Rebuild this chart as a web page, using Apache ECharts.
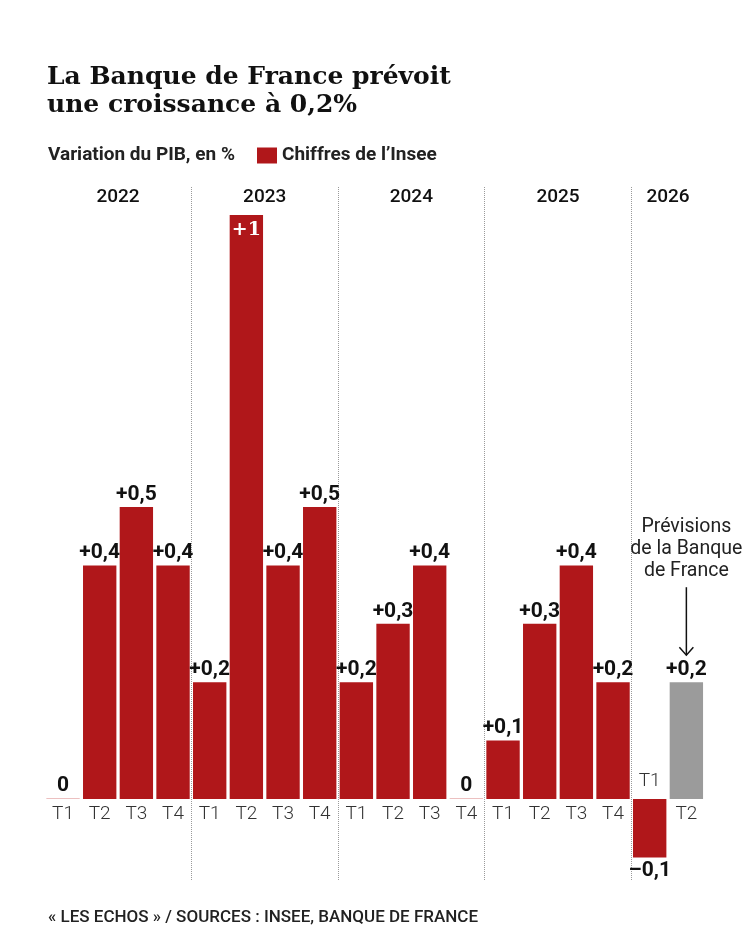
<!DOCTYPE html>
<html>
<head>
<meta charset="utf-8">
<script src="https://cdn.jsdelivr.net/npm/echarts@6/dist/echarts.min.js"></script>
<style>
  html, body { margin: 0; padding: 0; background: #fff; }
  #chart { width: 750px; height: 938px; }
</style>
</head>
<body>
<div id="chart"></div>
<script>
var quarters = ['T1', 'T2', 'T3', 'T4', 'T1', 'T2', 'T3', 'T4', 'T1', 'T2', 'T3', 'T4',
  'T1', 'T2', 'T3', 'T4', 'T1', 'T2'];
var values = [0, 0.4, 0.5, 0.4, 0.2, 1, 0.4, 0.5, 0.2, 0.3, 0.4, 0, 0.1, 0.3, 0.4, 0.2, -0.1, 0.2];
var years = ['2022', '2023', '2024', '2025', '2026'];
var yearCenters = [2, 6, 10, 14, 17];   // position on the 0..18 quarter scale
var forecastIndex = 17;

var RED = '#b0171a', GREY = '#9b9b9b';
var SANS = 'Roboto, "Noto Sans", sans-serif';
var Y_MIN = -0.1387, Y_MAX = 1.048;

function fmt(v) {
  if (v === 0) return '0';
  var s = String(Math.abs(v)).replace('.', ',');
  return (v > 0 ? '+' : '\u2013') + s;
}

var barData = values.map(function(v, i) {
  var item = { value: v };
  if (i === forecastIndex) item.itemStyle = { color: GREY };
  if (v === 0) item.itemStyle = { color: '#ecc0c0' };
  if (v < 0) item.label = { position: 'bottom', distance: 3 };
  if (v >= 1) item.label = {
    position: 'insideTop', distance: 6, color: '#fff',
    fontFamily: '"DejaVu Serif", serif', fontSize: 19
  };
  return item;
});

var axisData = quarters.map(function(q, i) {
  // the negative bar pushes its quarter label above the baseline
  if (values[i] < 0) return { value: q, textStyle: { verticalAlign: 'bottom', padding: [0, 0, 14, 0] } };
  return q;
});

var gridTop = 187, gridBottom = 58, chartH = 938;
// put the quarter axis on the zero line
var zeroOffset = -Math.round((chartH - gridTop - gridBottom) * (0 - Y_MIN) / (Y_MAX - Y_MIN));

var myChart = echarts.init(document.getElementById('chart'));
myChart.setOption({
  backgroundColor: '#fff',
  animation: false,
  title: [{
    text: 'La Banque de France prévoit\nune croissance à 0,2%',
    left: 42, top: 58,
    textStyle: { fontFamily: '"DejaVu Serif", serif', fontWeight: 'bold', fontSize: 25, lineHeight: 28, color: '#111' }
  }, {
    text: 'Variation du PIB, en %',
    left: 43, top: 141,
    textStyle: { fontFamily: SANS, fontWeight: 'bold', fontSize: 19, color: '#222' }
  }, {
    text: '« LES ECHOS » / SOURCES : INSEE, BANQUE DE FRANCE',
    left: 43, top: 904,
    textStyle: { fontFamily: SANS, fontWeight: 500, fontSize: 17, color: '#222' }
  }],
  legend: {
    left: 252, top: 141,
    icon: 'rect', itemWidth: 20, itemHeight: 16, itemGap: 8,
    data: ['Chiffres de l\u2019Insee'],
    textStyle: { fontFamily: SANS, fontWeight: 'bold', fontSize: 19, color: '#222' }
  },
  grid: { left: 44.7, right: 45.3, top: gridTop, bottom: gridBottom },
  xAxis: [{
    type: 'category',
    data: axisData,
    offset: zeroOffset,
    axisLine: { show: false, onZero: false },
    axisTick: { show: false },
    axisLabel: { margin: 6, fontFamily: SANS, fontWeight: 300, fontSize: 19, color: '#333' },
    splitLine: { show: false }
  }, {
    type: 'value', position: 'top',
    min: 0, max: 18, interval: 1,
    axisLine: { show: false }, axisTick: { show: false }, splitLine: { show: false },
    axisLabel: {
      inside: true, margin: 1,
      fontFamily: SANS, fontWeight: 500, fontSize: 19, color: '#111',
      formatter: function(v) {
        var k = yearCenters.indexOf(v);
        return k >= 0 ? years[k] : '';
      }
    }
  }, {
    // year separators: one every four quarters
    type: 'value', position: 'top',
    min: 0, max: 18, interval: 4,
    axisLine: { show: false }, axisTick: { show: false }, axisLabel: { show: false },
    splitLine: {
      show: true, showMinLine: false, showMaxLine: false,
      lineStyle: { color: '#9a9a9a', type: 'dotted', width: 1 }
    }
  }],
  yAxis: {
    type: 'value', min: Y_MIN, max: Y_MAX, show: false,
    splitLine: { show: false }
  },
  series: [{
    name: 'Chiffres de l\u2019Insee',
    type: 'bar',
    data: barData,
    barCategoryGap: '9%',
    barMinHeight: 1,
    itemStyle: { color: RED },
    label: {
      show: true, position: 'top', distance: 2,
      fontFamily: SANS, fontWeight: 'bold', fontSize: 21, color: '#111',
      formatter: function(p) { return fmt(p.value); }
    }
  }]
});

// annotation for the forecast bar
var barTop = myChart.convertToPixel({ xAxisIndex: 0, yAxisIndex: 0 }, [forecastIndex, values[forecastIndex]]);
var ax = barTop[0], ay = barTop[1];
myChart.setOption({
  graphic: [{
    type: 'text', x: ax, y: ay - 166,
    style: {
      text: 'Prévisions\nde la Banque\nde France',
      align: 'center',
      font: '19.5px Roboto, sans-serif', lineHeight: 22, fill: '#222'
    }
  }, {
    type: 'line',
    shape: { x1: ax, y1: ay - 95, x2: ax, y2: ay - 27 },
    style: { stroke: '#111', lineWidth: 1.5 }
  }, {
    type: 'polyline',
    shape: { points: [[ax - 7, ay - 35], [ax, ay - 27], [ax + 7, ay - 35]] },
    style: { stroke: '#111', lineWidth: 1.5, fill: null }
  }]
});
</script>
</body>
</html>
